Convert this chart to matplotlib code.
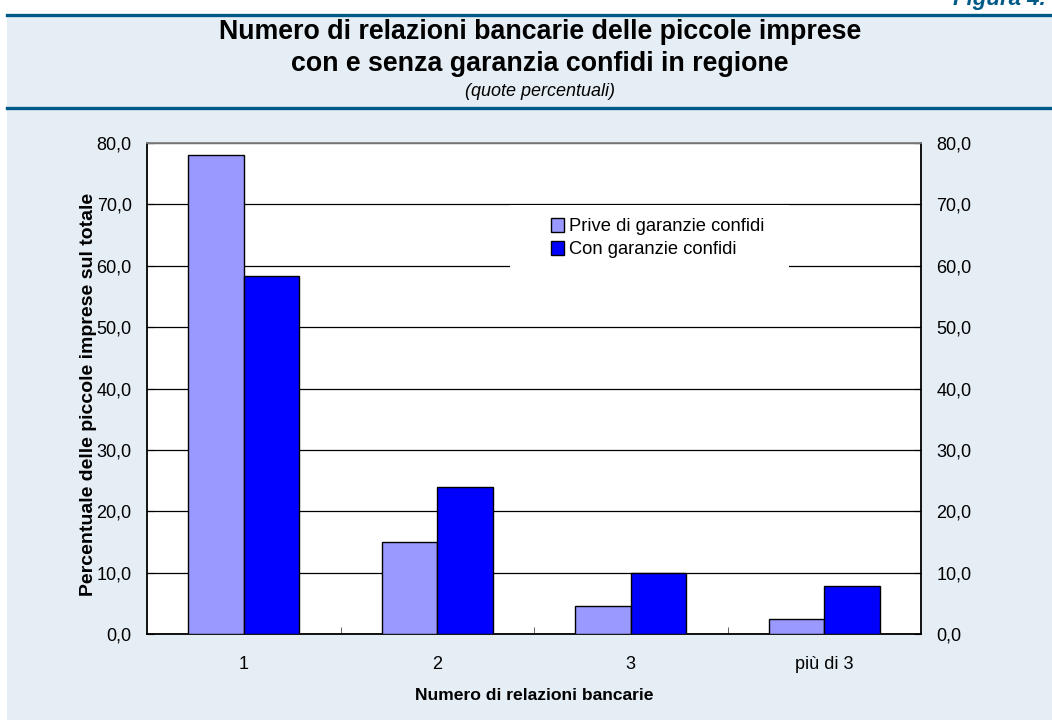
import numpy as np
import matplotlib
matplotlib.use('Agg')
import matplotlib.pyplot as plt
from matplotlib.patches import Rectangle
from matplotlib.lines import Line2D
from matplotlib.ticker import FuncFormatter, MultipleLocator, FixedLocator

plt.rcParams['font.family'] = ['Liberation Sans', 'DejaVu Sans']

categorie = ['1', '2', '3', 'più di 3']
prive = [78.1, 15.0, 4.5, 2.4]
con_garanzie = [58.4, 23.9, 10.0, 7.9]
serie = ['Prive di garanzie confidi', 'Con garanzie confidi']

blu_scuro = '#005A87'
sfondo = '#E6EEF5'

fig = plt.figure(figsize=(10.52, 7.2), dpi=100)
fig.patch.set_facecolor('white')

# pannello azzurro e linee di intestazione
fig.add_artist(Rectangle((7/1052, 0), 1 - 7/1052, 1 - 15/720, transform=fig.transFigure,
                         facecolor=sfondo, edgecolor='none', zorder=0))
for yy in (15, 108):
    fig.add_artist(Line2D([7/1052, 1], [1 - yy/720, 1 - yy/720], transform=fig.transFigure,
                          color=blu_scuro, lw=2.4, zorder=1))

# etichetta della figura, tagliata in alto come nell'originale
fig.text(953/1052, 1 - 5/720, 'Figura 4.', color=blu_scuro, fontsize=16,
         fontweight='bold', fontstyle='italic', ha='left', va='baseline')
fig.text(540/1052, 1 - 32/720, 'Numero di relazioni bancarie delle piccole imprese',
         fontsize=19.3, fontweight='bold', ha='center', va='center')
fig.text(540/1052, 1 - 64/720, 'con e senza garanzia confidi in regione',
         fontsize=19.3, fontweight='bold', ha='center', va='center')
fig.text(540/1052, 1 - 91/720, '(quote percentuali)', fontsize=13, fontstyle='italic',
         ha='center', va='center')

ax = fig.add_axes([147/1052, 86/720, 774/1052, 491/720])
ax.set_facecolor('white')

x = np.arange(len(categorie))
w = 0.288
ax.bar(x - w/2, prive, w, color='#9999FF', edgecolor='black', lw=1, zorder=3, label=serie[0])
ax.bar(x + w/2, con_garanzie, w, color='#0000FF', edgecolor='black', lw=1, zorder=3, label=serie[1])

ax.set_xlim(-0.5, len(categorie) - 0.5)
ax.set_ylim(0, 80)
ax.yaxis.set_major_locator(MultipleLocator(10))
ax.yaxis.set_major_formatter(FuncFormatter(lambda v, p: f'{v:.1f}'.replace('.', ',')))
ax.grid(axis='y', color='black', lw=0.9, zorder=1)

ax.set_xticks(x)
ax.set_xticklabels(categorie)
ax.xaxis.set_minor_locator(FixedLocator(np.arange(len(categorie) - 1) + 0.5))
ax.tick_params(axis='x', which='major', length=0, pad=16, labelsize=13)
ax.tick_params(axis='x', which='minor', direction='in', length=5, color='#444444')
ax.tick_params(axis='y', direction='in', length=5, left=True, right=True,
               labelleft=True, labelright=True, labelsize=13, pad=11)

for s in ('left', 'bottom', 'right'):
    ax.spines[s].set_color('black')
    ax.spines[s].set_linewidth(1.3)
ax.spines['top'].set_color('#808080')
ax.spines['top'].set_linewidth(1.3)

ax.set_xlabel('Numero di relazioni bancarie', fontsize=12.6, fontweight='bold', labelpad=11)
ax.set_ylabel('Percentuale delle piccole imprese sul totale', fontsize=14, fontweight='bold', labelpad=1)
ax.yaxis.set_label_coords(-0.064, 0.487)

# riquadro bianco della legenda
ax.add_patch(Rectangle((0.469, 0.745), 0.361, 0.129, transform=ax.transAxes,
                       facecolor='white', edgecolor='none', zorder=4))
ax.legend(loc='upper left', bbox_to_anchor=(0.512, 0.862), frameon=False, fontsize=13.2,
          handlelength=0.75, handleheight=0.75, handletextpad=0.25, labelspacing=0.33,
          borderaxespad=0).set_zorder(5)

fig.savefig('out.png', dpi=100, facecolor=fig.get_facecolor())
